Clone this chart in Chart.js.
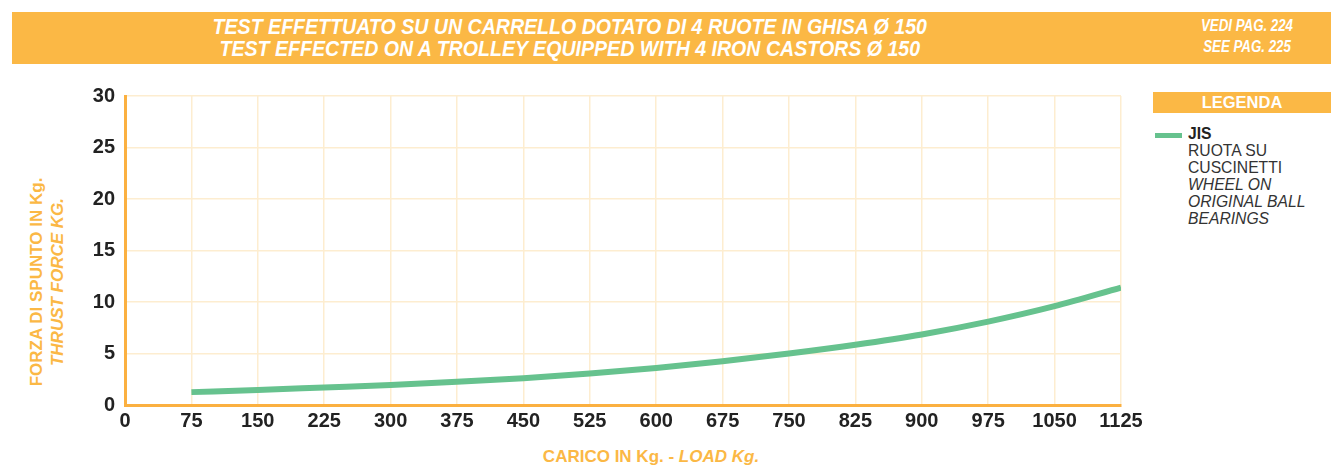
<!DOCTYPE html>
<html>
<head>
<meta charset="utf-8">
<script src="https://cdn.jsdelivr.net/npm/chart.js@4.4.0/dist/chart.umd.min.js"></script>
<style>
  html, body { margin: 0; padding: 0; background: #fff; }
  body { width: 1331px; height: 469px; position: relative; overflow: hidden; font-family: "Liberation Sans", Arial, sans-serif; }
  .band { position: absolute; left: 12px; top: 12px; width: 1319px; height: 52px; background: #fbb845; }
  .title { position: absolute; left: 0; width: 1140px; text-align: center; color: #fff;
           font-weight: bold; font-style: italic; font-size: 22px; line-height: 22px; transform: scaleX(0.89); transform-origin: 568px 0; }
  .page { position: absolute; left: 1167px; width: 160px; color: #fff; text-align: center; transform: scaleX(0.83); transform-origin: 80px 0;
          font-weight: bold; font-style: italic; font-size: 16px; line-height: 16px; }
  .legtitle { position: absolute; left: 1153px; top: 92px; width: 178px; height: 21px; background: #fbb845;
              color: #fff; font-weight: bold; font-size: 16.5px; line-height: 21px; text-align: center; }
  .legline { position: absolute; left: 1155px; top: 133px; width: 27px; height: 5px; background: #66c28e; }
  .legtext { position: absolute; left: 1188px; top: 125px; color: #333; font-size: 15.7px; line-height: 17px; }
  .ytitle { position: absolute; left: 47px; top: 282px; transform: translate(-50%, -50%) rotate(-90deg);
            color: #fbb845; font-weight: bold; font-size: 17px; line-height: 21px; text-align: center; white-space: nowrap; }
  .xtitle { position: absolute; left: 0; width: 1302px; top: 447px; text-align: center; color: #fbb845; font-weight: bold; font-size: 17px; }
  #wrap { position: absolute; left: 0; top: 74px; width: 1160px; height: 361px; }
</style>
</head>
<body>
<div class="band"></div>
<div class="title" style="top:16px">TEST EFFETTUATO SU UN CARRELLO DOTATO DI 4 RUOTE IN GHISA Ø 150</div>
<div class="title" style="top:38px">TEST EFFECTED ON A TROLLEY EQUIPPED WITH 4 IRON CASTORS Ø 150</div>
<div class="page" style="top:18px">VEDI PAG. 224</div>
<div class="page" style="top:39px">SEE PAG. 225</div>

<div class="legtitle">LEGENDA</div>
<div class="legline"></div>
<div class="legtext"><b style="color:#222">JIS</b><br>RUOTA SU<br>CUSCINETTI<br><i>WHEEL ON<br>ORIGINAL BALL<br>BEARINGS</i></div>

<div class="ytitle">FORZA DI SPUNTO IN Kg.<br><i>THRUST FORCE KG.</i></div>
<div class="xtitle">CARICO IN Kg. - <i>LOAD Kg.</i></div>

<div id="wrap"><canvas id="chart"></canvas></div>

<script>
const loads = [75, 150, 225, 300, 375, 450, 525, 600, 675, 750, 825, 900, 975, 1050, 1125];
const jisForce = [1.25, 1.45, 1.7, 1.95, 2.25, 2.6, 3.05, 3.6, 4.25, 5.0, 5.85, 6.85, 8.1, 9.6, 11.4];
const xTicks = [0, 75, 150, 225, 300, 375, 450, 525, 600, 675, 750, 825, 900, 975, 1050, 1125];
const yTicks = [0, 5, 10, 15, 20, 25, 30];

const orange = '#fbb040';
const gridColor = '#fdedd0';

new Chart(document.getElementById('chart'), {
    type: 'line',
    data: {
        datasets: [{
            label: 'JIS',
            data: loads.map((x, i) => ({ x: x, y: jisForce[i] })),
            borderColor: '#66c28e',
            borderWidth: 6,
            pointRadius: 0,
            cubicInterpolationMode: 'monotone',
            fill: false
        }]
    },
    options: {
        responsive: true,
        maintainAspectRatio: false,
        animation: false,
        layout: { padding: { top: 14, right: 39, left: 0, bottom: 0 } },
        plugins: { legend: { display: false }, tooltip: { enabled: false } },
        scales: {
            x: {
                type: 'linear',
                min: 0,
                max: 1125,
                afterBuildTicks: scale => { scale.ticks = xTicks.map(v => ({ value: v })); },
                afterFit: scale => { scale.height = 30; },
                grid: { color: gridColor, lineWidth: 1.5, drawTicks: false },
                border: { color: orange, width: 3 },
                ticks: {
                    color: '#222',
                    padding: 4,
                    maxRotation: 0,
                    autoSkip: false,
                    callback: v => String(v),
                    font: { family: 'Liberation Sans', size: 20, weight: 'bold' }
                }
            },
            y: {
                min: 0,
                max: 30,
                afterBuildTicks: scale => { scale.ticks = yTicks.map(v => ({ value: v })); },
                afterFit: scale => { scale.width = 125; },
                grid: { color: gridColor, lineWidth: 1.5, drawTicks: false },
                border: { color: orange, width: 3 },
                ticks: {
                    color: '#222',
                    padding: 10,
                    callback: v => String(v),
                    font: { family: 'Liberation Sans', size: 20, weight: 'bold' }
                }
            }
        }
    }
});
</script>
</body>
</html>
